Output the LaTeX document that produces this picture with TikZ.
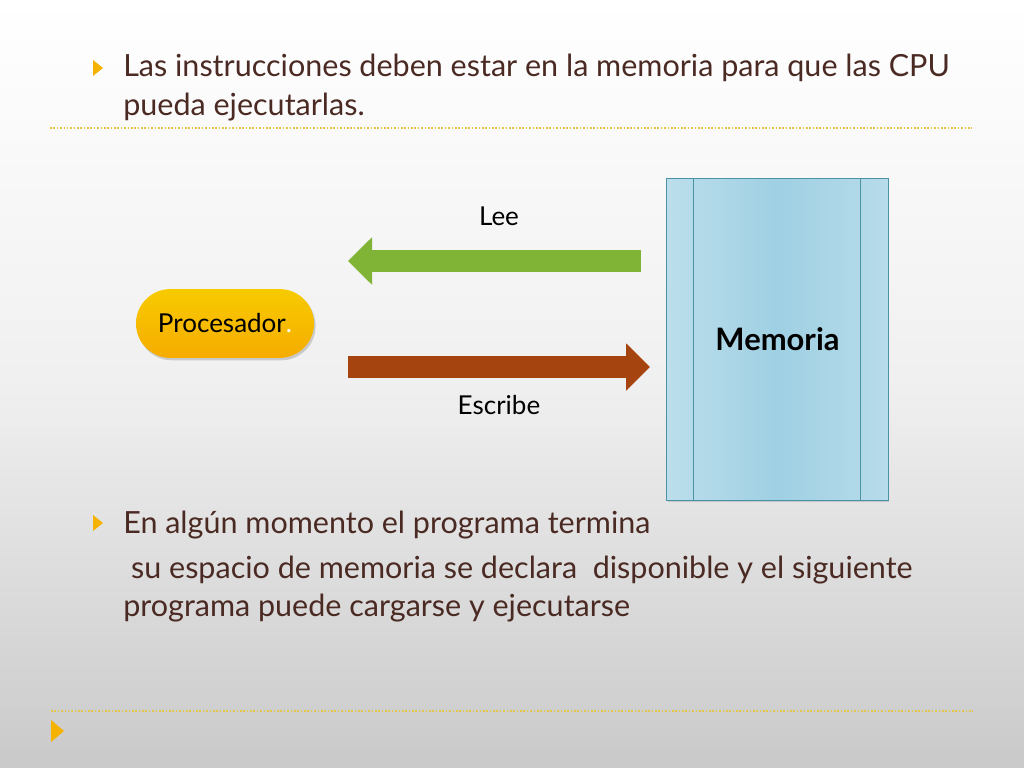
\documentclass[tikz,border=0pt]{standalone}
\usepackage{fontspec}
\setmainfont{Lato}
\usetikzlibrary{arrows.meta,shadows,calc,positioning}
\definecolor{textbrown}{HTML}{4A2A22}
\definecolor{bulletorange}{HTML}{F5B200}
\definecolor{dotyellow}{HTML}{E3C548}
\definecolor{leegreen}{HTML}{80B436}
\definecolor{escribebrown}{HTML}{A5440E}
\definecolor{memblue}{HTML}{9FD0E3}
\definecolor{memedge}{HTML}{4A92A6}
\definecolor{procorange}{HTML}{F4B400}
\tikzset{
  slidetext/.style={anchor=base west, inner sep=0pt, text=textbrown,
    font=\fontsize{21.7}{25}\selectfont},
  bulletmark/.style={fill=bulletorange},
  sepline/.style={dotyellow, line width=0.9pt, dash pattern=on 1.1pt off 1.3pt},
  labeltext/.style={font=\fontsize{18.5}{22}\selectfont},
  procbox/.style={labeltext, minimum width=4.45cm, minimum height=1.72cm,
    rounded corners=0.86cm, top color=procorange!70!yellow, bottom color=procorange!85!orange,
    drop shadow={shadow xshift=0.04cm, shadow yshift=-0.06cm, opacity=0.35}},
  membox/.style={draw=memedge, line width=0.7pt, minimum width=5.525cm, minimum height=8.025cm,
    left color=memblue!70, right color=memblue!75, middle color=memblue,
    font=\bfseries\fontsize{22}{26}\selectfont,
    drop shadow={shadow xshift=0.03cm, shadow yshift=-0.05cm, opacity=0.3}},
  blockarrow/.style={line width=0.55cm, -{Triangle[width=1.15cm, length=0.6cm]}},
}

\begin{document}
\begin{tikzpicture}[x=0.025cm, y=-0.025cm]
  % slide background
  \shade[top color=white, bottom color=black!21, middle color=black!6] (0,0) rectangle (1024,768);

  % first bullet
  \fill[bulletmark] (93,60) -- (103,68) -- (93,76) -- cycle;
  \node[slidetext] (line1) at (123,77) {Las instrucciones deben estar en la memoria para que las CPU};
  \node[slidetext] (line2) at (123,116) {pueda ejecutarlas.};
  \draw[sepline] (50,128) -- (972,128);

  % diagram
  \node[procbox] (proc) at (225,323.5) {Procesador\textcolor{white}{.}};
  \node[membox] (mem) at (777.5,339.5) {Memoria};
  \draw[memedge, line width=0.7pt] ($(mem.north west)+(27,0)$) -- ($(mem.south west)+(27,0)$);
  \draw[memedge, line width=0.7pt] ($(mem.north east)+(-28,0)$) -- ($(mem.south east)+(-28,0)$);

  \coordinate (leefrom) at (641,261);
  \coordinate (leeto) at (348,261);
  \coordinate (escfrom) at (348,367);
  \coordinate (escto) at (650,367);
  \draw[blockarrow, leegreen] (leefrom) -- (leeto);
  \draw[blockarrow, escribebrown] (escfrom) -- (escto);
  \node[labeltext] (lee) at (499,216) {Lee};
  \node[labeltext] (escribe) at (499,405) {Escribe};

  % second bullet
  \fill[bulletmark] (93,515) -- (103,523) -- (93,531) -- cycle;
  \node[slidetext] (line3) at (123,533) {En algún momento el programa termina};
  \node[slidetext] (line4) at (123,578) {\ su espacio de memoria se declara \ disponible y el siguiente};
  \node[slidetext] (line5) at (123,616) {programa puede cargarse y ejecutarse};

  % empty bullet at the bottom
  \draw[sepline] (51,711) -- (973,711);
  \fill[bulletmark] (51,720) -- (64,731) -- (51,742) -- cycle;
\end{tikzpicture}
\end{document}
